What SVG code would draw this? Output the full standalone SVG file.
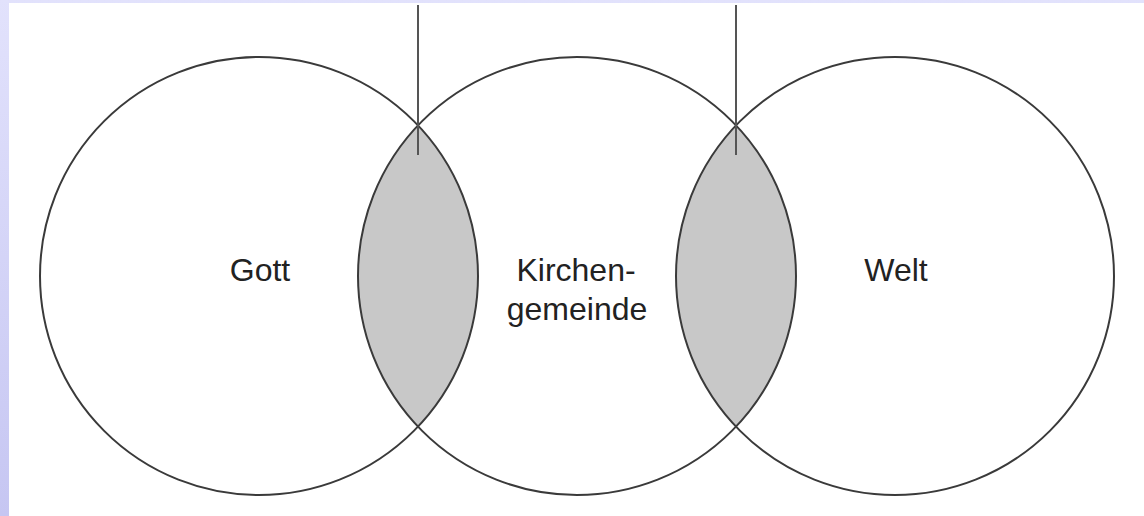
<svg xmlns="http://www.w3.org/2000/svg" width="1144" height="516" viewBox="0 0 1144 516">
<defs>
<linearGradient id="bg" x1="0" y1="0" x2="0" y2="1">
<stop offset="0" stop-color="#e2e2fc"/>
<stop offset="1" stop-color="#c6c6f2"/>
</linearGradient>
<style>
.circ{fill:none;stroke:#3a3a3a;stroke-width:2}
.lens{fill:#c8c8c8;stroke:none}
.conn{stroke:#555;stroke-width:2;fill:none}
.lbl{font-family:"Liberation Sans",Arial,sans-serif;font-size:32px;fill:#222;text-anchor:middle}
</style>
</defs>
<rect width="1144" height="516" fill="url(#bg)"/>
<rect x="9" y="3" width="1135" height="513" fill="#ffffff"/>
<g id="overlaps">
<path class="lens" d="M418,125.4 A219,219 0 0,1 418,426.6 A219,219 0 0,1 418,125.4 Z"/>
<path class="lens" d="M736,125.4 A219,219 0 0,1 736,426.6 A219,219 0 0,1 736,125.4 Z"/>
</g>
<g id="gott">
<circle class="circ" cx="259" cy="276" r="219"/>
<text class="lbl" x="260" y="281">Gott</text>
</g>
<g id="kirchengemeinde">
<circle class="circ" cx="577" cy="276" r="219"/>
<text class="lbl" x="576" y="281">Kirchen-</text>
<text class="lbl" x="577" y="320">gemeinde</text>
</g>
<g id="welt">
<circle class="circ" cx="895" cy="276" r="219"/>
<text class="lbl" x="896" y="281">Welt</text>
</g>
<g id="connectors">
<line class="conn" x1="418" y1="5" x2="418" y2="155"/>
<line class="conn" x1="736" y1="5" x2="736" y2="155"/>
</g>
</svg>
